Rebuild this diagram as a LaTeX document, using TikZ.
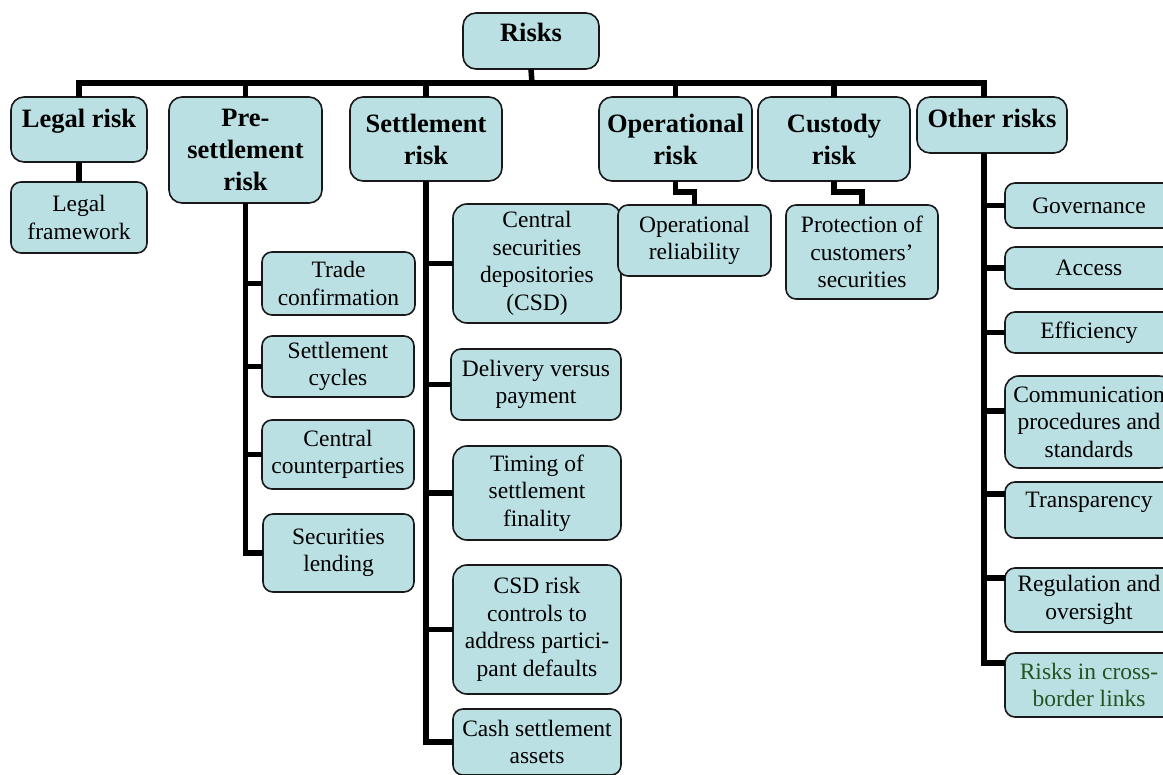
\documentclass[tikz,border=0pt]{standalone}
\usepackage{fontspec}
\setmainfont{Liberation Serif}
\definecolor{boxfill}{RGB}{187,224,227}
\definecolor{boxline}{RGB}{25,25,25}
\definecolor{linktext}{RGB}{34,85,34}
\tikzset{
  box/.style={draw=boxline, line width=1.6pt, fill=boxfill, rounded corners=10pt,
    inner sep=0pt, outer sep=0pt, anchor=north west, align=center,
    font=\fontsize{23.5}{27.5}\selectfont},
  tallbox/.style={box, rounded corners=14pt},
  head/.style={box, rounded corners=13pt, font=\fontsize{26.5}{32}\selectfont\bfseries},
  conn/.style={line width=5.5pt, black},
}
\begin{document}
\begin{tikzpicture}[x=1pt,y=-1pt]
\useasboundingbox (0,0) rectangle (1163,775);
\clip (0,0) rectangle (1163,775);

% root
\node[head, minimum width=136pt, minimum height=56pt, text height=18pt, text depth=16pt] (risks) at (463,13) {Risks};

% first level
\node[head, minimum width=136pt, minimum height=65pt, text height=18pt, text depth=21pt] (legal) at (11,97) {Legal risk};
\node[head, minimum width=153pt, minimum height=106pt] (pre) at (169,97) {Pre-\\settlement\\risk};
\node[head, minimum width=152pt, minimum height=84pt] (settle) at (350,97) {Settlement\\risk};
\node[head, minimum width=153pt, minimum height=84pt] (oper) at (599,97) {Operational\\risk};
\node[head, minimum width=152pt, minimum height=84pt] (cust) at (758,97) {Custody\\risk};
\node[head, minimum width=150pt, minimum height=56pt, text height=18pt, text depth=12pt] (other) at (917,97) {Other risks};

% legal risk
\node[box, minimum width=136pt, minimum height=71pt] (legalfw) at (11,182) {Legal\\framework};

% pre-settlement risk
\node[box, minimum width=153pt, minimum height=63pt] (trade) at (262,252) {Trade\\confirmation};
\node[box, minimum width=152pt, minimum height=61pt] (cycles) at (262,336) {Settlement\\cycles};
\node[box, minimum width=152pt, minimum height=69pt] (ccp) at (262,420) {Central\\counterparties};
\node[box, minimum width=151pt, minimum height=78pt] (lending) at (263,514) {Securities\\lending};

% settlement risk
\node[tallbox, minimum width=168pt, minimum height=119pt] (csd) at (453,204) {Central\\securities\\depositories\\(CSD)};
\node[box, minimum width=170pt, minimum height=71pt] (dvp) at (451,349) {Delivery versus\\payment};
\node[tallbox, minimum width=168pt, minimum height=94pt] (timing) at (453,446) {Timing of\\settlement\\finality};
\node[tallbox, minimum width=168pt, minimum height=129pt] (csdrisk) at (453,565) {CSD risk\\controls to\\address partici-\\pant defaults};
\node[box, minimum width=168pt, minimum height=66pt] (cash) at (453,709) {Cash settlement\\assets};

% operational and custody risk
\node[box, minimum width=153pt, minimum height=71pt] (oprel) at (618,205) {Operational\\reliability};
\node[box, minimum width=152pt, minimum height=94pt] (protect) at (786,205) {Protection of\\customers’\\securities};

% other risks
\node[box, minimum width=168pt, minimum height=45pt] (gov) at (1005,183) {Governance};
\node[box, minimum width=168pt, minimum height=42pt] (access) at (1005,247) {Access};
\node[box, minimum width=168pt, minimum height=41pt] (eff) at (1005,312) {Efficiency};
\node[tallbox, minimum width=168pt, minimum height=92pt] (comm) at (1005,376) {Communication\\procedures and\\standards};
\node[box, minimum width=168pt, minimum height=56pt, text height=16pt, text depth=20pt] (transp) at (1005,482) {Transparency};
\node[box, minimum width=168pt, minimum height=64pt] (regul) at (1005,568) {Regulation and\\oversight};
\node[box, minimum width=168pt, minimum height=64pt, text=linktext] (links) at (1005,653) {Risks in cross-\\border links};

% top-level bar
\coordinate (bar) at (532,83);
\draw[conn] (risks.south) -- (bar);
\draw[conn] (legal.north) -- (legal.north |- bar) -| ([xshift=-8pt]other.north);
\foreach \n in {pre,settle,oper,cust}
  \draw[conn] (\n.north) -- (\n.north |- bar);

% legal risk
\draw[conn] (legal.south) -- (legalfw.north);

% pre-settlement bus
\draw[conn] (pre.south) |- (lending.west);
\foreach \n in {trade,cycles,ccp}
  \draw[conn] (pre.south |- \n.west) -- (\n.west);

% settlement bus
\draw[conn] (settle.south) |- (cash.west);
\foreach \n in {csd,dvp,timing,csdrisk}
  \draw[conn] (settle.south |- \n.west) -- (\n.west);

% operational and custody jogs
\draw[conn] (oper.south) -- ++(0,11) -| (oprel.north);
\draw[conn] (cust.south) -- ++(0,11) -| (protect.north);

% other risks bus and its stubs (some meet the boxes above their middle)
\coordinate (obus) at ([xshift=-8pt]other.south);
\coordinate (commIn) at ([yshift=11pt]comm.west);
\coordinate (transpIn) at ([yshift=16pt]transp.west);
\coordinate (regulIn) at ([yshift=22pt]regul.west);
\coordinate (linksIn) at ([yshift=22pt]links.west);
\draw[conn] (obus) |- (linksIn);
\foreach \n in {gov.west,access.west,eff.west,commIn,transpIn,regulIn}
  \draw[conn] (obus |- \n) -- (\n);
\end{tikzpicture}
\end{document}
